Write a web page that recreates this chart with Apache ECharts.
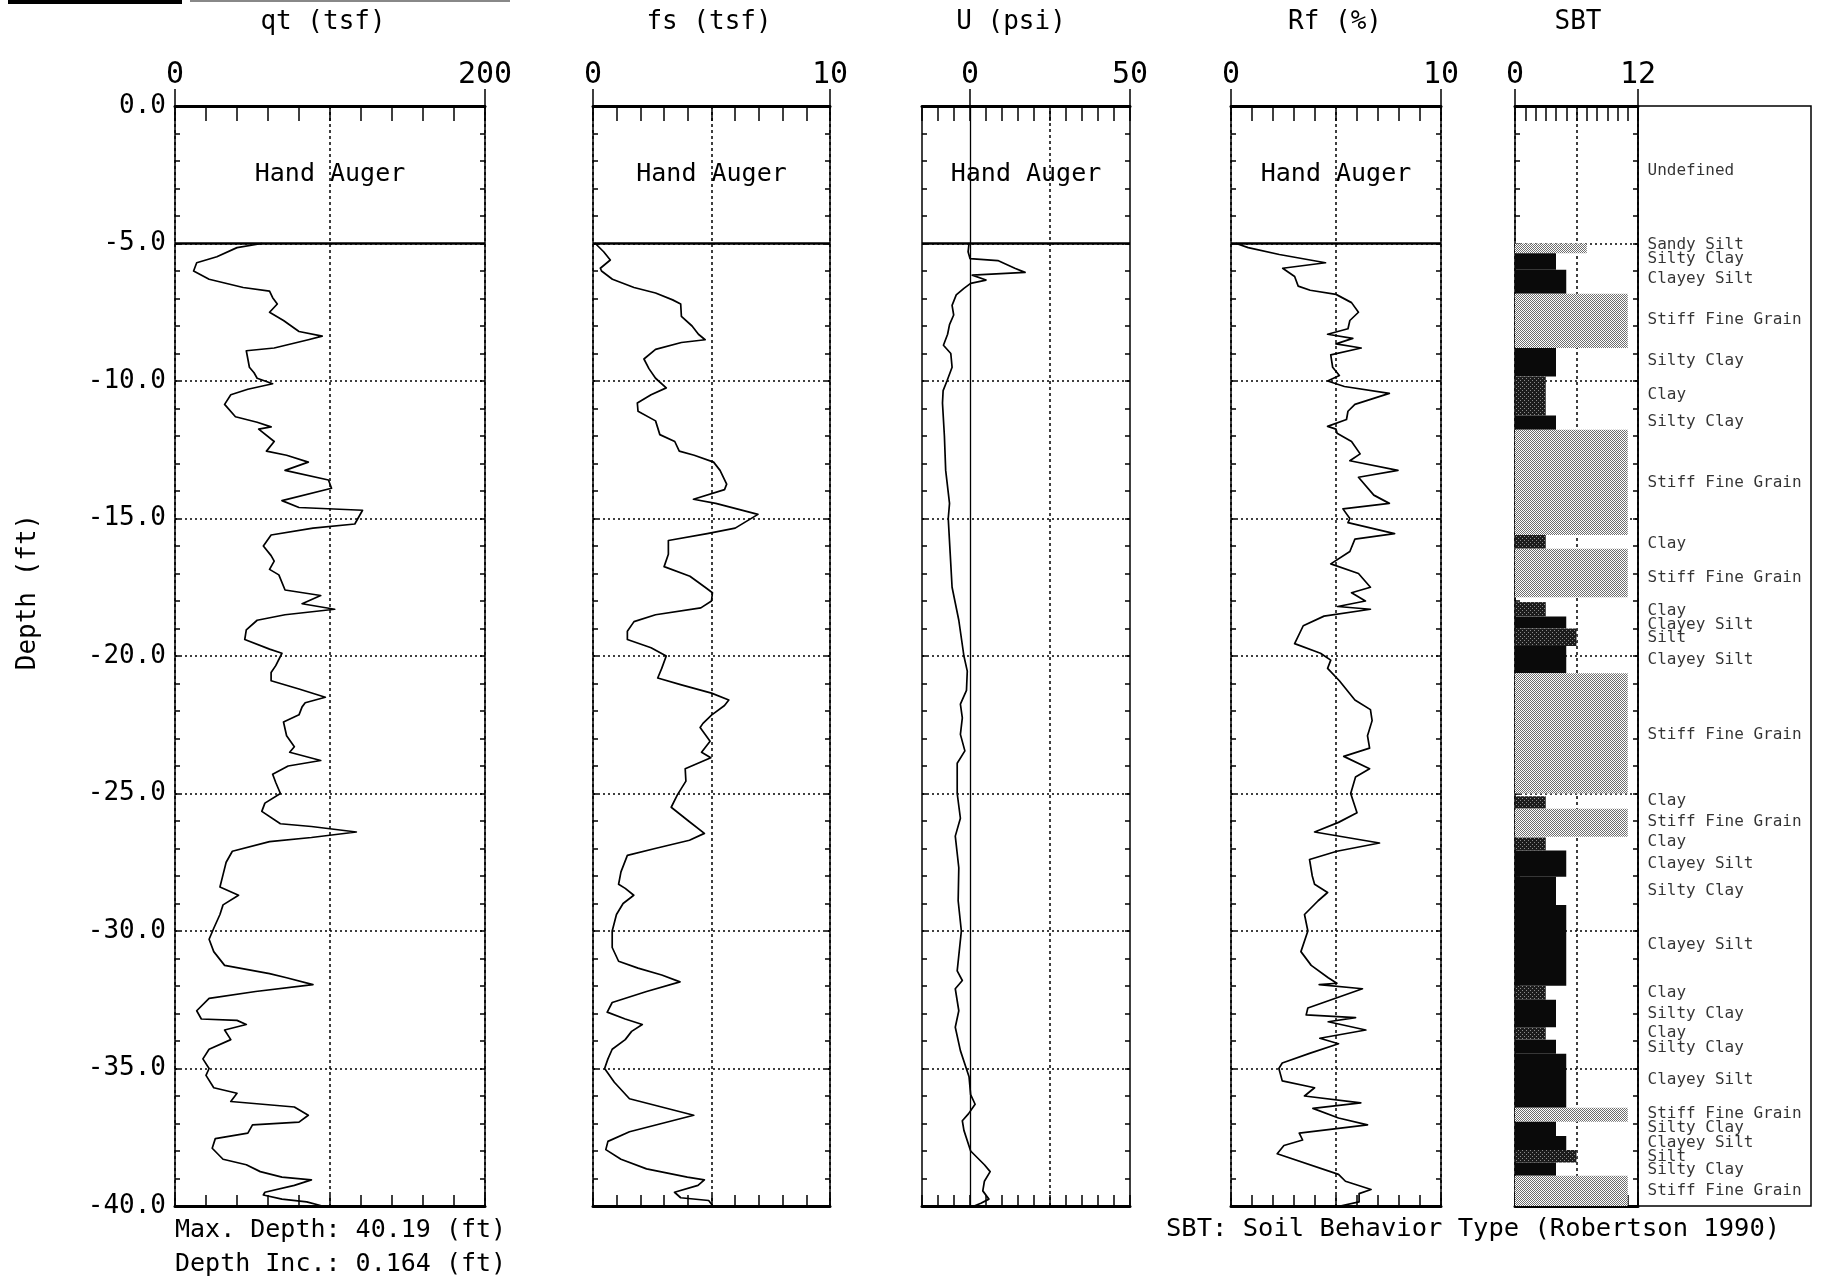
<!DOCTYPE html>
<html><head><meta charset="utf-8">
<script src="https://cdn.jsdelivr.net/npm/echarts@6/dist/echarts.min.js"></script>
<style>html,body{margin:0;padding:0;background:#fff;}#c{width:1823px;height:1277px;}</style>
</head><body><div id="c"></div>
<script>
// ---------------- DATA ----------------
const qtDepth = [-5.0,-5.15,-5.48,-5.7,-6.0,-6.3,-6.6,-6.73,-6.97,-7.2,-7.5,-7.8,-8.2,-8.37,-8.5,-8.8,-8.9,-9.2,-9.5,-9.7,-9.9,-10.1,-10.3,-10.5,-10.85,-11.3,-11.5,-11.67,-11.75,-12.2,-12.55,-12.7,-12.95,-13.25,-13.6,-13.9,-14.35,-14.6,-14.7,-15.2,-15.35,-15.6,-16.0,-16.35,-16.55,-16.85,-17.05,-17.6,-17.8,-18.1,-18.3,-18.5,-18.7,-19.05,-19.4,-19.75,-19.9,-20.35,-20.6,-20.9,-21.2,-21.5,-21.7,-21.85,-22.14,-22.4,-22.9,-23.3,-23.5,-23.8,-24.0,-24.3,-24.6,-25.0,-25.35,-25.65,-26.1,-26.2,-26.4,-26.6,-26.75,-27.1,-27.5,-27.95,-28.4,-28.7,-29.05,-29.4,-29.9,-30.3,-30.75,-31.25,-31.55,-31.7,-31.95,-32.2,-32.45,-32.9,-33.2,-33.25,-33.4,-33.6,-33.95,-34.3,-34.65,-35.0,-35.25,-35.7,-35.9,-36.2,-36.4,-36.7,-36.95,-37.05,-37.35,-37.55,-37.9,-38.3,-38.5,-38.75,-38.95,-39.05,-39.25,-39.5,-39.6,-39.75,-39.85,-40.0];
const qtValue = [56,40,27,14,12,22,44,61,63,66,61,70,80,95,86,64,46,47,48,51,53,63,47,36,32,39,53,62,54,64,59,72,86,71,99,101,69,80,121,116,89,62,57,62,64,61,67,71,94,82,103,71,53,46,45,61,69,65,62,62,80,97,84,82,80,70,72,77,74,94,73,63,65,68,58,56,68,88,117,88,61,37,33,31,29,41,31,29,25,22,25,32,61,72,89,52,22,14,17,40,46,32,36,22,18,22,20,25,40,36,77,86,80,50,47,26,24,31,46,55,69,88,77,58,57,69,85,95];

const fsDepth = [-5.0,-5.3,-5.6,-5.9,-6.0,-6.3,-6.6,-6.8,-7.05,-7.2,-7.65,-8.0,-8.3,-8.5,-8.6,-8.85,-9.2,-9.55,-9.9,-10.25,-10.5,-10.8,-11.1,-11.45,-11.95,-12.2,-12.55,-12.7,-12.95,-13.25,-13.75,-13.95,-14.3,-14.45,-14.85,-15.35,-15.55,-15.8,-16.3,-16.75,-17.1,-17.5,-17.7,-18.0,-18.25,-18.5,-18.75,-19.1,-19.4,-19.7,-20.0,-20.45,-20.8,-21.05,-21.35,-21.6,-21.8,-22.15,-22.45,-22.6,-23.1,-23.5,-23.7,-24.1,-24.55,-25.05,-25.5,-26.0,-26.45,-26.7,-27.0,-27.25,-27.85,-28.3,-28.45,-28.7,-29.0,-29.4,-30.0,-30.6,-31.1,-31.35,-31.6,-31.85,-32.2,-32.6,-32.95,-33.2,-33.4,-33.65,-33.95,-34.3,-34.65,-35.0,-35.5,-36.1,-36.7,-37.3,-37.65,-37.95,-38.3,-38.65,-38.95,-39.05,-39.25,-39.5,-39.7,-39.8,-40.0];
const fsValue = [0.1,0.45,0.73,0.31,0.36,0.82,1.73,2.64,3.36,3.7,3.73,4.18,4.45,4.73,3.73,2.64,2.15,2.36,2.64,3.09,2.45,1.87,1.9,2.64,2.82,3.45,3.64,4.27,5.09,5.36,5.64,5.55,4.24,5.18,6.96,6.0,4.82,3.18,3.18,3.0,4.09,4.73,5.04,5.0,4.55,2.64,1.73,1.45,1.45,2.45,3.09,2.9,2.73,3.73,5.0,5.73,5.55,5.0,4.64,4.52,4.94,4.58,4.97,3.89,3.92,3.56,3.3,4.03,4.7,4.07,2.62,1.45,1.18,1.08,1.36,1.72,1.27,0.99,0.81,0.81,1.08,1.9,2.9,3.67,2.26,0.81,0.6,1.36,2.08,1.63,1.36,0.81,0.63,0.49,0.9,1.54,4.25,1.54,0.63,0.54,1.18,2.26,3.98,4.7,4.43,3.44,3.7,4.88,5.06];

const uDepth = [-5.0,-5.3,-5.55,-5.62,-5.9,-6.05,-6.15,-6.33,-6.45,-6.63,-6.87,-7.25,-7.6,-7.95,-8.3,-8.7,-9.0,-9.5,-10.0,-10.35,-10.8,-12.0,-13.25,-14.45,-15.0,-16.25,-17.5,-18.7,-20.0,-20.55,-21.25,-21.75,-22.25,-22.85,-23.45,-23.9,-25.0,-25.9,-26.55,-27.7,-28.9,-30.0,-31.45,-31.8,-32.1,-32.9,-33.5,-34.35,-35.3,-35.95,-36.3,-36.65,-36.9,-37.25,-38.0,-38.5,-38.75,-39.1,-39.45,-39.75,-39.9,-40.0];
const uValue = [-0.3,-0.6,0,8.7,14,17.2,0.7,5,0.2,-1.9,-4.3,-5.6,-5.1,-6.4,-7.0,-8.3,-6.0,-5.6,-7.2,-8.4,-8.6,-8.0,-7.6,-6.4,-6.8,-6.2,-5.6,-3.5,-1.9,-0.85,-1.1,-3.0,-2.4,-3.0,-1.6,-4.0,-4.0,-3.0,-4.6,-3.5,-3.7,-2.7,-4.0,-2.4,-4.6,-3.5,-4.6,-3.0,-0.3,0.2,1.6,-0.5,-2.4,-1.9,0.2,4.5,6.3,4.5,4.0,5.9,3.4,1.3];

const rfDepth = [-5.0,-5.15,-5.4,-5.7,-5.9,-6.2,-6.55,-6.7,-6.85,-7.15,-7.5,-7.8,-8.1,-8.3,-8.45,-8.65,-8.8,-9.05,-9.5,-9.8,-10.0,-10.2,-10.45,-10.85,-11.1,-11.4,-11.65,-11.75,-11.9,-12.2,-12.65,-12.9,-13.25,-13.5,-14.15,-14.45,-14.65,-15.0,-15.15,-15.55,-15.75,-16.2,-16.65,-17.0,-17.5,-17.7,-18.0,-18.2,-18.3,-18.55,-18.9,-19.55,-19.9,-20.15,-20.45,-20.9,-21.6,-21.95,-22.35,-22.9,-23.35,-23.65,-24.1,-24.4,-25.0,-25.7,-26.05,-26.4,-26.8,-27.1,-27.4,-28.0,-28.3,-28.6,-28.9,-29.4,-30.0,-30.75,-31.25,-31.7,-31.9,-31.95,-32.1,-32.8,-33.05,-33.15,-33.3,-33.6,-33.9,-34.1,-34.45,-34.8,-35.0,-35.45,-35.7,-36.0,-36.25,-36.45,-36.8,-37.05,-37.35,-37.6,-37.8,-38.1,-38.85,-39.1,-39.4,-39.55,-39.85,-40.0];
const rfValue = [0.25,0.82,2.3,4.5,2.46,3.03,3.2,3.77,5.0,5.74,6.07,5.66,5.57,4.6,5.8,5.0,6.2,4.75,4.84,5.16,4.6,5.4,7.54,5.9,5.57,5.5,4.6,5.0,5.05,5.74,6.15,5.66,7.95,6.07,6.8,7.54,5.33,5.66,5.57,7.79,5.9,5.66,4.75,6.07,6.64,5.74,6.4,5.08,6.64,4.43,3.44,3.03,4.26,4.75,4.6,5.16,5.9,6.64,6.72,6.5,6.6,5.37,6.6,5.93,5.7,6.0,5.12,3.98,7.07,5.04,3.74,3.87,3.98,4.6,4.15,3.5,3.66,3.33,3.82,4.63,5.04,4.2,6.26,3.66,3.58,5.93,4.63,6.42,4.23,5.12,3.74,2.44,2.28,2.44,3.98,3.5,6.18,3.9,5.12,6.5,3.25,3.41,2.52,2.2,5.12,5.45,6.67,6.1,6.1,5.2];

const sbtTop    = [-5.0,-5.35,-5.95,-6.83,-8.8,-9.84,-11.25,-11.77,-15.6,-16.1,-18.04,-18.56,-19.0,-19.64,-20.63,-25.1,-25.55,-26.6,-27.07,-28.03,-29.05,-31.99,-32.5,-33.5,-33.95,-34.46,-36.43,-36.94,-37.45,-37.96,-38.42,-38.9];
const sbtBottom = [-5.35,-5.95,-6.83,-8.8,-9.84,-11.25,-11.77,-15.6,-16.1,-17.86,-18.56,-19.0,-19.64,-20.63,-25.0,-25.55,-26.57,-27.07,-28.03,-29.05,-31.99,-32.5,-33.5,-33.95,-34.46,-36.43,-36.94,-37.45,-37.96,-38.42,-38.9,-40.0];
const sbtZone   = [7,4,5,11,4,3,4,11,3,11,3,5,6,5,11,3,11,3,5,4,5,3,4,3,4,5,11,4,5,6,4,11];
const sbtType   = ['Sandy Silt','Silty Clay','Clayey Silt','Stiff Fine Grain','Silty Clay','Clay','Silty Clay','Stiff Fine Grain','Clay','Stiff Fine Grain','Clay','Clayey Silt','Silt','Clayey Silt','Stiff Fine Grain','Clay','Stiff Fine Grain','Clay','Clayey Silt','Silty Clay','Clayey Silt','Clay','Silty Clay','Clay','Silty Clay','Clayey Silt','Stiff Fine Grain','Silty Clay','Clayey Silt','Silt','Silty Clay','Stiff Fine Grain'];

const sbtLabelText  = ['Undefined','Sandy Silt','Silty Clay','Clayey Silt','Stiff Fine Grain','Silty Clay','Clay','Silty Clay','Stiff Fine Grain','Clay','Stiff Fine Grain','Clay','Clayey Silt','Silt','Clayey Silt','Stiff Fine Grain','Clay','Stiff Fine Grain','Clay','Clayey Silt','Silty Clay','Clayey Silt','Clay','Silty Clay','Clay','Silty Clay','Clayey Silt','Stiff Fine Grain','Silty Clay','Clayey Silt','Silt','Silty Clay','Stiff Fine Grain'];
const sbtLabelDepth = [-2.37,-5.04,-5.55,-6.3,-7.79,-9.27,-10.5,-11.47,-13.71,-15.92,-17.14,-18.37,-18.88,-19.34,-20.15,-22.86,-25.27,-26.03,-26.75,-27.56,-28.53,-30.52,-32.25,-33.02,-33.69,-34.24,-35.43,-36.66,-37.16,-37.71,-38.22,-38.69,-39.45];

const panelTitles = ['qt (tsf)','fs (tsf)','U (psi)','Rf (%)','SBT'];
// ---------------- CHART ----------------
const FONT = 'DejaVu Sans Mono';
const TOP = 106, H = 1100;
const zip = (d, v) => d.map((y, i) => [v[i], y]);

function pattern(kind) {
  const c = document.createElement('canvas');
  c.width = 4; c.height = 4;
  const g = c.getContext('2d');
  if (kind === 'light') {
    g.fillStyle = '#ffffff'; g.fillRect(0,0,4,4);
    g.fillStyle = '#6e6e6e';
    for (let x=0;x<4;x++) for (let y=0;y<4;y++) if ((x+y)%2===0) g.fillRect(x,y,1,1);
  } else if (kind === 'dark') {
    g.fillStyle = '#1c1c1c'; g.fillRect(0,0,4,4);
    g.fillStyle = '#8a8a8a';
    g.fillRect(0,0,1,1); g.fillRect(2,2,1,1);
  } else {
    g.fillStyle = '#0a0a0a'; g.fillRect(0,0,4,4);
  }
  return {image: c, repeat: 'repeat'};
}
const fills = {light: pattern('light'), dark: pattern('dark'), black: pattern('black')};
const kindOf = n => (n === 'Stiff Fine Grain' || n === 'Sandy Silt') ? 'light' : ((n === 'Clay' || n === 'Silt') ? 'dark' : 'black');

const panels = [
  {left:175,  width:310, min:0,   max:200, step:20, labels:[0,200], half:true,  titleX:323},
  {left:593,  width:237, min:0,   max:10,  step:1,  labels:[0,10],  half:true,  titleX:709},
  {left:922,  width:208, min:-15, max:50,  step:5,  labels:[0,50],  half:false, titleX:1011},
  {left:1231, width:210, min:0,   max:10,  step:1,  labels:[0,10],  half:true,  titleX:1335},
  {left:1515, width:123, min:0,   max:12,  step:1,  labels:[0,12],  half:true,  titleX:1578}
];

const grids = [], xAxes = [], yAxes = [];
const blk = '#000';
panels.forEach((p, i) => {
  grids.push({left:p.left, top:TOP, width:p.width, height:H, outerBoundsMode:'none', containLabel:false});
  xAxes.push({gridIndex:i, type:'value', position:'top', min:p.min, max:p.max,
    axisLine:{show:true, onZero:false, lineStyle:{color:blk, width:3}},
    axisTick:{show:true, inside:false, length:17, customValues:p.labels, lineStyle:{color:blk, width:1.5}},
    axisLabel:{show:true, customValues:p.labels, margin:16, fontSize:30, fontFamily:FONT, color:blk},
    splitLine:{show:false}});
  xAxes.push({gridIndex:i, type:'value', position:'bottom', min:p.min, max:p.max, interval:p.step,
    axisLine:{show:true, onZero:false, lineStyle:{color:blk, width:3}},
    axisTick:{show:true, inside:true, length:11, lineStyle:{color:blk, width:1.5}},
    axisLabel:{show:false}, splitLine:{show:false}});
  xAxes.push({gridIndex:i, type:'value', position:'top', min:p.min, max:p.max, interval:p.step,
    axisLine:{show:false, onZero:false},
    axisTick:{show:true, inside:true, length:15, lineStyle:{color:blk, width:1.5}},
    axisLabel:{show:false}, splitLine:{show:false}});
  xAxes.push({gridIndex:i, type:'value', position:'bottom', min:p.min, max:p.max, interval:(p.max-p.min)/2,
    axisLine:{show:false, onZero:false}, axisTick:{show:false}, axisLabel:{show:false},
    splitLine:{show:p.half, lineStyle:{color:blk, width:1.5, type:[3,3]}}});
  yAxes.push({gridIndex:i, type:'value', position:'left', min:-40, max:0, interval:5,
    axisLine:{show:true, onZero:false, lineStyle:{color:blk, width:1.5}},
    axisTick:{show:false},
    axisLabel:{show:i===0, margin:9, fontSize:26, fontFamily:FONT, color:blk, formatter:v => v.toFixed(1)},
    splitLine:{show:true, lineStyle:{color:blk, width:1.6, type:[2,3]}}});
  yAxes.push({gridIndex:i, type:'value', position:'left', min:-40, max:0, interval:1,
    axisLine:{show:false, onZero:false}, axisTick:{show:true, inside:true, length:5, lineStyle:{color:blk, width:1.5}},
    axisLabel:{show:false}, splitLine:{show:false}});
  yAxes.push({gridIndex:i, type:'value', position:'right', min:-40, max:0, interval:1,
    axisLine:{show:true, onZero:false, lineStyle:{color:blk, width:1.5}},
    axisTick:{show:true, inside:true, length:5, lineStyle:{color:blk, width:1.5}},
    axisLabel:{show:false}, splitLine:{show:false}});
});
grids.push({left:1638, top:TOP, width:173, height:H, show:true, borderColor:blk, borderWidth:1.5, backgroundColor:'transparent', outerBoundsMode:'none', containLabel:false});
xAxes.push({gridIndex:5, type:'value', min:0, max:1, show:false});
yAxes.push({gridIndex:5, type:'value', min:-40, max:0, show:false});

function curveSeries(i, depth, value, extraMarks) {
  const p = panels[i];
  return {
    type:'line', xAxisIndex:i*4, yAxisIndex:i*3, data:zip(depth, value),
    showSymbol:false, symbol:'none', animation:false, silent:true,
    lineStyle:{color:blk, width:1.7, join:'round', cap:'round'},
    markLine:{silent:true, symbol:['none','none'], animation:false, label:{show:false},
      data:[{yAxis:-5, lineStyle:{color:blk, type:'solid', width:2.5}}].concat(extraMarks || [])},
    markArea:{silent:true, animation:false, itemStyle:{color:'rgba(0,0,0,0)'},
      label:{show:true, position:'inside', fontSize:25, fontFamily:FONT, color:blk},
      data:[[{name:'Hand Auger', xAxis:p.min, yAxis:0}, {xAxis:p.max, yAxis:-5}]]}
  };
}

const series = [
  curveSeries(0, qtDepth, qtValue),
  curveSeries(1, fsDepth, fsValue),
  curveSeries(2, uDepth, uValue, [
    {xAxis:0, lineStyle:{color:blk, type:'solid', width:1.3}},
    {xAxis:25, lineStyle:{color:blk, type:[3,3], width:1.5}}]),
  curveSeries(3, rfDepth, rfValue),
  {
    type:'custom', xAxisIndex:16, yAxisIndex:12, animation:false, silent:true,
    data: sbtTop.map((t, k) => [t, sbtBottom[k], sbtZone[k], k]),
    encode:{x:2, y:[0,1]},
    renderItem: (params, api) => {
      const k = api.value(3);
      const p1 = api.coord([0, api.value(0)]);
      const p2 = api.coord([api.value(2), api.value(1)]);
      return {type:'rect', shape:{x:p1[0], y:p1[1], width:p2[0]-p1[0], height:p2[1]-p1[1]},
        style:{fill: fills[kindOf(sbtType[k])]}};
    }
  },
  {
    type:'scatter', xAxisIndex:20, yAxisIndex:15, animation:false, silent:true,
    symbolSize:1, itemStyle:{color:'rgba(0,0,0,0)'},
    data: sbtLabelText.map((n, k) => ({name:n, value:[0, sbtLabelDepth[k]]})),
    label:{show:true, position:'right', distance:9, formatter:'{b}', fontSize:16, fontFamily:FONT, color:blk}
  }
];

const graphic = [];
panelTitles.forEach((t, i) => graphic.push({type:'text', x:panels[i].titleX, y:22,
  style:{text:t, fill:blk, font:'26px "DejaVu Sans Mono"', align:'center', verticalAlign:'middle'}}));
graphic.push({type:'text', x:28, y:592, rotation:Math.PI/2,
  style:{text:'Depth (ft)', fill:blk, font:'26px "DejaVu Sans Mono"', align:'center', verticalAlign:'middle'}});
graphic.push({type:'text', x:175, y:1230,
  style:{text:'Max. Depth: 40.19 (ft)', fill:blk, font:'25px "DejaVu Sans Mono"', align:'left', verticalAlign:'middle'}});
graphic.push({type:'text', x:175, y:1264,
  style:{text:'Depth Inc.: 0.164 (ft)', fill:blk, font:'25px "DejaVu Sans Mono"', align:'left', verticalAlign:'middle'}});
graphic.push({type:'text', x:1166, y:1229,
  style:{text:'SBT: Soil Behavior Type (Robertson 1990)', fill:blk, font:'25.5px "DejaVu Sans Mono"', align:'left', verticalAlign:'middle'}});
graphic.push({type:'rect', shape:{x:8, y:0, width:174, height:4}, style:{fill:'#000'}});
graphic.push({type:'rect', shape:{x:190, y:0, width:320, height:2}, style:{fill:'#888'}});

const chart = echarts.init(document.getElementById('c'), null, {renderer:'canvas'});
chart.setOption({
  backgroundColor:'#fff', animation:false,
  grid:grids, xAxis:xAxes, yAxis:yAxes, series:series, graphic:graphic
});
</script></body></html>
